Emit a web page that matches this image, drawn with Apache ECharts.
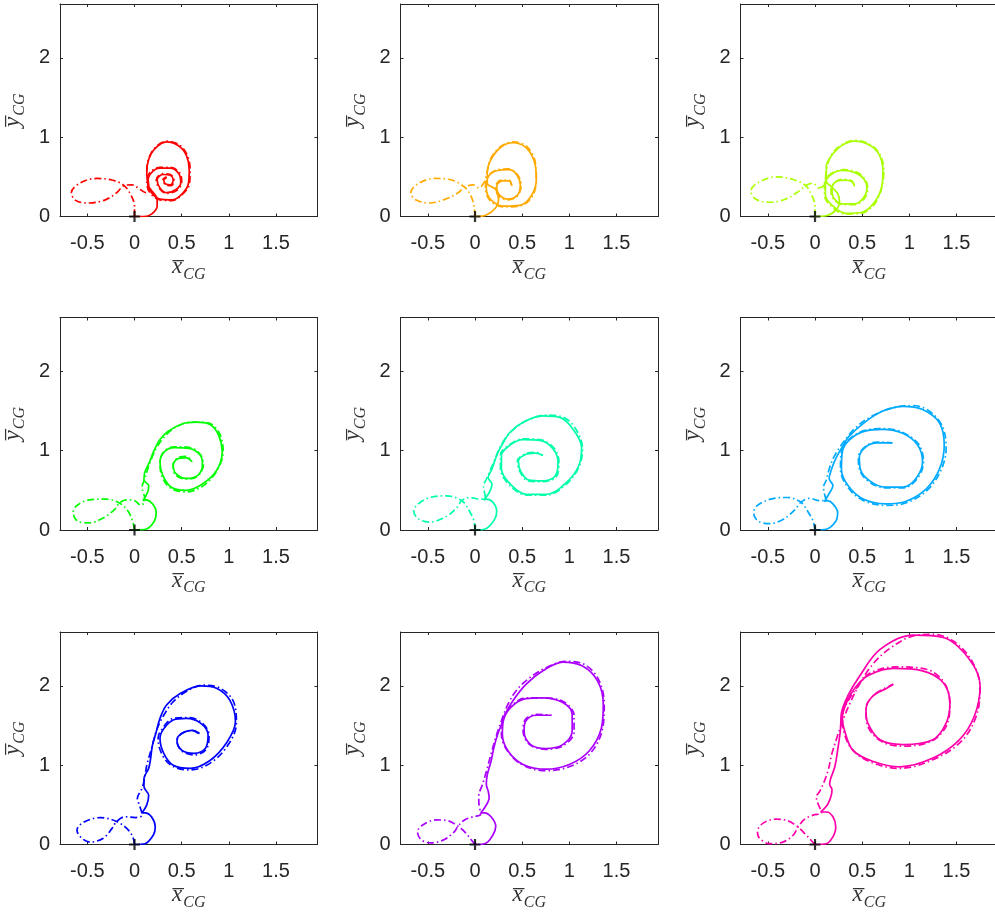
<!DOCTYPE html>
<html>
<head>
<meta charset="utf-8">
<script src="https://cdn.jsdelivr.net/npm/echarts@6/dist/echarts.min.js"></script>
<style>
html, body { margin: 0; padding: 0; background: #ffffff; }
#chart { width: 995px; height: 918px; }
</style>
</head>
<body>
<div id="chart"></div>
<script>
// Axis ticks and limits shared by every panel
const xTicks = [-0.5, 0, 0.5, 1, 1.5];
const yTicks = [0, 1, 2];
const xRange = [-0.79, 1.94];
const yRange = [0, 2.68];

// One hue per case
const panelColors = ['#FF0000', '#FFAA00', '#AAFF00', '#00FF00', '#00FFAA', '#00AAFF', '#0000FF', '#AA00FF', '#FF00AA'];

// Centre-of-gravity trajectories: solid and dash-dot curve of each case
const p1Solid = [[0,0],[0.1,0],[0.18,0.03],[0.24,0.13],[0.24,0.22],[0.2,0.3],[0.15,0.38],[0.13,0.55],[0.15,0.72],[0.22,0.86],[0.34,0.94],[0.47,0.89],[0.55,0.77],[0.58,0.59],[0.57,0.41],[0.5,0.28],[0.4,0.21],[0.27,0.22],[0.18,0.3],[0.14,0.42],[0.17,0.54],[0.27,0.61],[0.38,0.61],[0.47,0.54],[0.49,0.43],[0.44,0.34],[0.34,0.3],[0.27,0.36],[0.24,0.46],[0.3,0.53],[0.38,0.52],[0.41,0.46],[0.38,0.4],[0.33,0.41],[0.31,0.46],[0.34,0.49]];
const p1Dash = [[0,0],[0,0.13],[-0.03,0.25],[-0.11,0.39],[-0.24,0.46],[-0.4,0.48],[-0.58,0.42],[-0.67,0.3],[-0.62,0.2],[-0.49,0.17],[-0.31,0.21],[-0.19,0.3],[-0.11,0.39],[-0.03,0.4],[0.06,0.34],[0.12,0.3],[0.15,0.4],[0.13,0.56],[0.15,0.73],[0.22,0.87],[0.34,0.95],[0.48,0.9],[0.56,0.77],[0.59,0.59],[0.58,0.4],[0.5,0.27],[0.4,0.2],[0.27,0.21],[0.17,0.29],[0.13,0.42],[0.16,0.55],[0.27,0.62],[0.38,0.62],[0.48,0.55],[0.5,0.43],[0.45,0.33],[0.34,0.29],[0.26,0.36],[0.23,0.46],[0.3,0.54],[0.38,0.53],[0.42,0.46],[0.39,0.39],[0.33,0.4],[0.3,0.46],[0.34,0.5]];

const p2Solid = [[0,0],[0.12,0.02],[0.22,0.11],[0.25,0.21],[0.22,0.34],[0.13,0.42],[0.13,0.55],[0.17,0.72],[0.28,0.88],[0.4,0.93],[0.54,0.87],[0.63,0.69],[0.65,0.46],[0.59,0.25],[0.47,0.14],[0.31,0.13],[0.17,0.21],[0.12,0.36],[0.14,0.5],[0.24,0.58],[0.36,0.59],[0.44,0.53],[0.48,0.4],[0.45,0.27],[0.35,0.22],[0.26,0.27],[0.23,0.38],[0.29,0.45],[0.36,0.45],[0.39,0.39]];
const p2Dash = [[0,0],[-0.01,0.12],[-0.04,0.25],[-0.11,0.37],[-0.25,0.46],[-0.43,0.48],[-0.61,0.41],[-0.68,0.3],[-0.63,0.21],[-0.48,0.17],[-0.31,0.22],[-0.18,0.3],[-0.11,0.37],[-0.02,0.4],[0.04,0.36],[0.1,0.44],[0.13,0.57],[0.17,0.74],[0.28,0.89],[0.41,0.94],[0.55,0.88],[0.64,0.68],[0.65,0.46],[0.6,0.24],[0.47,0.13],[0.3,0.12],[0.16,0.2],[0.11,0.36],[0.14,0.51],[0.24,0.59],[0.36,0.6],[0.45,0.53],[0.49,0.4],[0.45,0.26],[0.35,0.21],[0.25,0.26],[0.22,0.38],[0.28,0.46],[0.36,0.46],[0.39,0.39]];

const p3Solid = [[0,0],[0.12,0.01],[0.22,0.08],[0.26,0.19],[0.24,0.29],[0.17,0.38],[0.12,0.44],[0.12,0.63],[0.19,0.79],[0.29,0.9],[0.42,0.95],[0.58,0.9],[0.68,0.78],[0.72,0.57],[0.7,0.34],[0.61,0.15],[0.49,0.05],[0.33,0.04],[0.19,0.13],[0.11,0.27],[0.11,0.42],[0.17,0.53],[0.29,0.58],[0.43,0.55],[0.52,0.47],[0.55,0.36],[0.51,0.23],[0.42,0.16],[0.29,0.16],[0.2,0.23],[0.18,0.34],[0.21,0.43],[0.31,0.46],[0.39,0.44],[0.42,0.38]];
const p3Dash = [[0,0],[0,0.12],[-0.03,0.26],[-0.1,0.39],[-0.24,0.47],[-0.41,0.5],[-0.6,0.43],[-0.68,0.32],[-0.63,0.22],[-0.48,0.18],[-0.31,0.22],[-0.17,0.32],[-0.1,0.39],[-0.02,0.42],[0.04,0.36],[0.1,0.4],[0.12,0.59],[0.18,0.79],[0.29,0.91],[0.42,0.96],[0.58,0.91],[0.69,0.78],[0.73,0.57],[0.7,0.33],[0.62,0.14],[0.49,0.04],[0.32,0.03],[0.18,0.12],[0.1,0.27],[0.1,0.43],[0.17,0.54],[0.3,0.59],[0.44,0.56],[0.53,0.47],[0.56,0.35],[0.52,0.22],[0.42,0.15],[0.29,0.15],[0.19,0.23],[0.17,0.34],[0.22,0.44],[0.31,0.47],[0.39,0.45],[0.42,0.38]];

const p4Solid = [[0,0],[0.12,0.01],[0.21,0.11],[0.23,0.22],[0.19,0.33],[0.12,0.38],[0.09,0.37],[0.14,0.48],[0.15,0.56],[0.1,0.63],[0.11,0.73],[0.16,0.86],[0.21,1.01],[0.27,1.14],[0.35,1.24],[0.51,1.34],[0.65,1.36],[0.8,1.33],[0.89,1.2],[0.93,0.99],[0.87,0.75],[0.72,0.58],[0.55,0.5],[0.39,0.54],[0.3,0.69],[0.27,0.86],[0.32,0.99],[0.42,1.04],[0.58,1.03],[0.7,0.94],[0.72,0.82],[0.67,0.69],[0.55,0.65],[0.44,0.71],[0.41,0.82],[0.46,0.9],[0.55,0.91],[0.61,0.86]];
const p4Dash = [[0,0],[-0.02,0.11],[-0.07,0.24],[-0.16,0.34],[-0.3,0.39],[-0.48,0.38],[-0.62,0.3],[-0.65,0.22],[-0.6,0.11],[-0.48,0.09],[-0.32,0.16],[-0.21,0.26],[-0.16,0.34],[-0.09,0.38],[0,0.37],[0.07,0.31],[0.11,0.39],[0.08,0.54],[0.11,0.65],[0.14,0.77],[0.18,0.9],[0.23,1.03],[0.32,1.18],[0.44,1.3],[0.6,1.36],[0.78,1.35],[0.9,1.22],[0.94,0.99],[0.87,0.74],[0.73,0.56],[0.55,0.48],[0.38,0.53],[0.29,0.68],[0.27,0.86],[0.32,1.0],[0.43,1.05],[0.59,1.04],[0.7,0.95],[0.73,0.82],[0.67,0.68],[0.55,0.64],[0.43,0.7],[0.41,0.82],[0.46,0.91],[0.55,0.93],[0.61,0.86]];

const p5Solid = [[0,0],[0.12,0.02],[0.21,0.14],[0.23,0.24],[0.19,0.35],[0.12,0.39],[0.09,0.38],[0.15,0.47],[0.18,0.58],[0.14,0.66],[0.18,0.77],[0.23,0.94],[0.28,1.06],[0.37,1.23],[0.51,1.36],[0.72,1.44],[0.9,1.42],[1.04,1.27],[1.13,1.04],[1.1,0.81],[0.97,0.6],[0.76,0.45],[0.55,0.45],[0.39,0.56],[0.28,0.77],[0.28,0.94],[0.37,1.07],[0.51,1.14],[0.69,1.13],[0.83,1.02],[0.88,0.85],[0.85,0.68],[0.72,0.62],[0.57,0.63],[0.48,0.75],[0.46,0.87],[0.53,0.95],[0.64,0.97],[0.72,0.94]];
const p5Dash = [[0,0],[-0.01,0.11],[-0.07,0.26],[-0.14,0.37],[-0.3,0.43],[-0.48,0.41],[-0.61,0.32],[-0.65,0.24],[-0.6,0.14],[-0.48,0.1],[-0.32,0.16],[-0.2,0.27],[-0.14,0.37],[-0.05,0.41],[0.04,0.39],[0.11,0.41],[0.09,0.56],[0.12,0.64],[0.16,0.75],[0.21,0.89],[0.28,1.08],[0.39,1.25],[0.55,1.38],[0.74,1.45],[0.94,1.42],[1.07,1.27],[1.14,1.02],[1.1,0.79],[0.97,0.58],[0.76,0.44],[0.55,0.44],[0.38,0.55],[0.27,0.77],[0.27,0.95],[0.37,1.08],[0.51,1.15],[0.69,1.14],[0.84,1.03],[0.89,0.85],[0.86,0.67],[0.72,0.61],[0.56,0.62],[0.47,0.75],[0.45,0.87],[0.53,0.96],[0.64,0.98],[0.72,0.94]];

const p6Solid = [[0,0],[0.12,0.01],[0.22,0.11],[0.24,0.22],[0.19,0.33],[0.13,0.37],[0.1,0.36],[0.15,0.46],[0.19,0.56],[0.15,0.65],[0.17,0.75],[0.22,0.9],[0.28,1.03],[0.36,1.18],[0.54,1.37],[0.72,1.5],[0.93,1.56],[1.14,1.52],[1.32,1.35],[1.37,1.07],[1.32,0.77],[1.18,0.52],[0.96,0.36],[0.75,0.33],[0.51,0.39],[0.35,0.56],[0.28,0.77],[0.29,0.99],[0.36,1.13],[0.51,1.24],[0.72,1.27],[0.93,1.22],[1.09,1.07],[1.14,0.86],[1.07,0.65],[0.93,0.54],[0.75,0.54],[0.58,0.62],[0.48,0.77],[0.47,0.92],[0.54,1.05],[0.66,1.1],[0.82,1.1]];
const p6Dash = [[0,0],[-0.02,0.11],[-0.08,0.24],[-0.15,0.35],[-0.29,0.41],[-0.47,0.39],[-0.62,0.3],[-0.65,0.21],[-0.6,0.11],[-0.48,0.08],[-0.33,0.14],[-0.21,0.26],[-0.15,0.35],[-0.06,0.4],[0.05,0.37],[0.12,0.37],[0.09,0.54],[0.12,0.63],[0.15,0.77],[0.2,0.92],[0.29,1.09],[0.43,1.29],[0.61,1.44],[0.82,1.54],[1.04,1.57],[1.21,1.5],[1.35,1.31],[1.39,1.03],[1.33,0.74],[1.18,0.49],[0.96,0.34],[0.75,0.31],[0.5,0.38],[0.34,0.55],[0.27,0.77],[0.28,0.99],[0.36,1.14],[0.51,1.25],[0.72,1.28],[0.93,1.23],[1.1,1.08],[1.15,0.86],[1.08,0.64],[0.93,0.53],[0.75,0.53],[0.57,0.61],[0.47,0.77],[0.46,0.92],[0.54,1.06],[0.66,1.11],[0.82,1.1]];

const p7Solid = [[0,0],[0.11,0.01],[0.2,0.12],[0.22,0.22],[0.18,0.35],[0.11,0.4],[0.08,0.4],[0.13,0.5],[0.15,0.62],[0.1,0.73],[0.1,0.83],[0.15,0.96],[0.17,1.08],[0.19,1.25],[0.23,1.42],[0.27,1.59],[0.34,1.76],[0.48,1.9],[0.7,2.0],[0.87,1.97],[1.01,1.82],[1.07,1.55],[0.98,1.29],[0.8,1.06],[0.59,0.96],[0.41,1.0],[0.31,1.15],[0.27,1.34],[0.31,1.46],[0.41,1.57],[0.55,1.59],[0.7,1.53],[0.78,1.38],[0.75,1.21],[0.63,1.15],[0.5,1.19],[0.45,1.32],[0.5,1.4],[0.61,1.44],[0.69,1.4]];
const p7Dash = [[0,0],[-0.02,0.1],[-0.08,0.2],[-0.19,0.29],[-0.36,0.34],[-0.54,0.28],[-0.61,0.18],[-0.56,0.08],[-0.47,0.03],[-0.33,0.08],[-0.24,0.2],[-0.19,0.29],[-0.1,0.35],[0.01,0.34],[0.08,0.37],[0.04,0.54],[0.03,0.58],[0.08,0.71],[0.11,0.85],[0.13,1.0],[0.18,1.21],[0.24,1.46],[0.31,1.63],[0.41,1.8],[0.55,1.93],[0.73,2.01],[0.91,1.97],[1.05,1.8],[1.08,1.53],[1.0,1.27],[0.82,1.04],[0.59,0.94],[0.4,0.99],[0.29,1.14],[0.25,1.34],[0.3,1.47],[0.41,1.59],[0.57,1.6],[0.71,1.54],[0.79,1.38],[0.76,1.2],[0.63,1.13],[0.5,1.18],[0.45,1.3],[0.5,1.4],[0.61,1.44],[0.69,1.39]];

const p8Solid = [[0,0],[0.12,0.02],[0.19,0.12],[0.22,0.23],[0.17,0.35],[0.1,0.4],[0.06,0.4],[0.1,0.46],[0.15,0.59],[0.14,0.67],[0.12,0.76],[0.13,0.88],[0.17,1.05],[0.2,1.22],[0.24,1.39],[0.28,1.51],[0.31,1.62],[0.4,1.81],[0.54,2.02],[0.72,2.19],[0.93,2.3],[1.14,2.25],[1.3,2.06],[1.36,1.77],[1.34,1.47],[1.21,1.18],[1.0,1.01],[0.75,0.95],[0.51,1.01],[0.35,1.18],[0.29,1.39],[0.3,1.56],[0.38,1.73],[0.54,1.84],[0.72,1.85],[0.93,1.79],[1.03,1.64],[1.03,1.43],[0.93,1.26],[0.75,1.21],[0.59,1.26],[0.52,1.43],[0.54,1.56],[0.65,1.63],[0.81,1.63]];
const p8Dash = [[0,0],[-0.04,0.06],[-0.11,0.16],[-0.18,0.23],[-0.29,0.3],[-0.41,0.31],[-0.55,0.25],[-0.61,0.16],[-0.57,0.06],[-0.47,0.02],[-0.33,0.06],[-0.22,0.16],[-0.18,0.23],[-0.11,0.31],[-0.02,0.35],[0.06,0.38],[0.04,0.54],[0.04,0.61],[0.08,0.76],[0.12,0.92],[0.17,1.14],[0.22,1.35],[0.28,1.56],[0.35,1.77],[0.45,1.96],[0.61,2.13],[0.79,2.25],[0.96,2.31],[1.16,2.27],[1.31,2.08],[1.37,1.77],[1.35,1.45],[1.23,1.16],[1.02,0.99],[0.75,0.93],[0.51,1.0],[0.35,1.17],[0.28,1.39],[0.29,1.56],[0.37,1.73],[0.54,1.85],[0.73,1.85],[0.94,1.8],[1.05,1.63],[1.05,1.42],[0.94,1.25],[0.75,1.2],[0.58,1.26],[0.51,1.43],[0.53,1.57],[0.65,1.64],[0.81,1.63]];

const p9Solid = [[0,0],[0.12,0.01],[0.2,0.12],[0.22,0.22],[0.19,0.35],[0.12,0.41],[0.06,0.41],[0.14,0.52],[0.18,0.69],[0.155,0.76],[0.21,0.98],[0.24,1.19],[0.27,1.45],[0.28,1.66],[0.35,1.88],[0.47,2.12],[0.69,2.46],[1.04,2.64],[1.36,2.61],[1.64,2.33],[1.75,2.0],[1.69,1.62],[1.53,1.32],[1.25,1.09],[0.9,0.98],[0.61,1.05],[0.4,1.19],[0.31,1.45],[0.29,1.59],[0.33,1.78],[0.44,2.0],[0.58,2.14],[0.83,2.22],[1.14,2.19],[1.36,2.04],[1.43,1.78],[1.39,1.53],[1.25,1.32],[0.93,1.26],[0.69,1.32],[0.56,1.53],[0.54,1.7],[0.61,1.87],[0.76,1.97],[0.83,2.02]];
const p9Dash = [[0,0],[-0.04,0.05],[-0.11,0.14],[-0.18,0.22],[-0.29,0.3],[-0.41,0.32],[-0.55,0.27],[-0.61,0.16],[-0.59,0.08],[-0.48,0.01],[-0.34,0.03],[-0.23,0.12],[-0.18,0.22],[-0.11,0.32],[-0.02,0.37],[0.07,0.4],[0.03,0.52],[0.014,0.6],[0.05,0.67],[0.09,0.77],[0.14,0.94],[0.18,1.15],[0.23,1.34],[0.29,1.55],[0.37,1.78],[0.47,2.02],[0.61,2.27],[0.79,2.47],[1.04,2.63],[1.25,2.65],[1.46,2.57],[1.66,2.32],[1.75,1.97],[1.71,1.62],[1.55,1.3],[1.25,1.07],[0.9,0.96],[0.61,1.03],[0.4,1.19],[0.3,1.45],[0.29,1.62],[0.35,1.81],[0.46,2.0],[0.58,2.16],[0.86,2.24],[1.18,2.21],[1.37,2.04],[1.43,1.76],[1.39,1.49],[1.23,1.3],[0.93,1.24],[0.69,1.31],[0.55,1.53],[0.54,1.72],[0.63,1.89],[0.79,2.0],[0.83,2.02]];

// Release point marked in every panel
const startPoint = [[0, 0]];

const panels = [
  [p1Solid, p1Dash], [p2Solid, p2Dash], [p3Solid, p3Dash],
  [p4Solid, p4Dash], [p5Solid, p5Dash], [p6Solid, p6Dash],
  [p7Solid, p7Dash], [p8Solid, p8Dash], [p9Solid, p9Dash]
];

// 3 x 3 layout of the plot boxes (pixels)
const colLeft = [60, 400.5, 740.5];
const rowTop = [4, 317.5, 632];
const boxW = 257.5;
const boxH = 212.5;

const ink = '#262626';
const tickFont = 'Liberation Sans, Arial, Helvetica, sans-serif';
const mathFont = 'Liberation Serif, DejaVu Serif, serif';

function nameRich() {
  return {
    v: { fontFamily: mathFont, fontStyle: 'italic', fontSize: 23, color: '#333333', verticalAlign: 'bottom', padding: [0, 1, 4, 0] },
    s: { fontFamily: mathFont, fontStyle: 'italic', fontSize: 16, color: '#333333', verticalAlign: 'bottom' }
  };
}

const grid = [], xAxis = [], yAxis = [], series = [];

panels.forEach(function (curves, i) {
  const r = Math.floor(i / 3), c = i % 3;
  grid.push({ left: colLeft[c], top: rowTop[r], width: boxW, height: boxH, show: false, outerBoundsMode: 'none', containLabel: false });

  const lineStyle = { color: ink, width: 1 };
  const tickStyle = { color: ink, width: 1 };

  // bottom axis with labels, plus a mirrored top axis for the box and inner ticks
  xAxis.push({
    gridIndex: i, type: 'value', min: xRange[0], max: xRange[1], position: 'bottom',
    axisLine: { show: true, onZero: false, lineStyle: lineStyle },
    axisTick: { show: true, inside: true, length: 3, customValues: xTicks, lineStyle: tickStyle },
    axisLabel: { show: true, customValues: xTicks, fontSize: 20, fontFamily: tickFont, color: ink, margin: 17,
      formatter: function (v) { return String(v); } },
    splitLine: { show: false },
    name: '{v|x\u0305}{s|CG}', nameLocation: 'middle', nameGap: 39,
    nameTextStyle: { rich: nameRich() }
  });
  xAxis.push({
    gridIndex: i, type: 'value', min: xRange[0], max: xRange[1], position: 'top',
    axisLine: { show: true, onZero: false, lineStyle: lineStyle },
    axisTick: { show: true, inside: true, length: 3, customValues: xTicks, lineStyle: tickStyle },
    axisLabel: { show: false }, splitLine: { show: false }
  });
  yAxis.push({
    gridIndex: i, type: 'value', min: yRange[0], max: yRange[1], position: 'left',
    axisLine: { show: true, onZero: false, lineStyle: lineStyle },
    axisTick: { show: true, inside: true, length: 3, customValues: yTicks, lineStyle: tickStyle },
    axisLabel: { show: true, customValues: yTicks, fontSize: 20, fontFamily: tickFont, color: ink, margin: 10,
      formatter: function (v) { return String(v); } },
    splitLine: { show: false },
    name: '{v|y\u0305}{s|CG}', nameLocation: 'middle', nameGap: 32, nameRotate: 90,
    nameTextStyle: { rich: nameRich() }
  });
  yAxis.push({
    gridIndex: i, type: 'value', min: yRange[0], max: yRange[1], position: 'right',
    axisLine: { show: true, onZero: false, lineStyle: lineStyle },
    axisTick: { show: true, inside: true, length: 3, customValues: yTicks, lineStyle: tickStyle },
    axisLabel: { show: false }, splitLine: { show: false }
  });

  const color = panelColors[i];
  series.push({
    type: 'line', xAxisIndex: 2 * i, yAxisIndex: 2 * i, data: curves[0],
    showSymbol: false, smooth: 0.35, clip: true, silent: true,
    lineStyle: { color: color, width: 1.7, type: 'solid' }, z: 2
  });
  series.push({
    type: 'line', xAxisIndex: 2 * i, yAxisIndex: 2 * i, data: curves[1],
    showSymbol: false, smooth: 0.35, clip: true, silent: true,
    lineStyle: { color: color, width: 1.7, type: [7, 3, 1.5, 3] }, z: 2
  });
  series.push({
    type: 'scatter', xAxisIndex: 2 * i, yAxisIndex: 2 * i, data: startPoint,
    symbol: 'path://M4,0h2v4h4v2h-4v4h-2v-4h-4v-2h4z', symbolSize: 11,
    itemStyle: { color: '#000000' }, silent: true, z: 5
  });
});

const chart = echarts.init(document.getElementById('chart'), null, { renderer: 'canvas' });
chart.setOption({
  animation: false,
  backgroundColor: '#ffffff',
  grid: grid, xAxis: xAxis, yAxis: yAxis, series: series
});
</script>
</body>
</html>
